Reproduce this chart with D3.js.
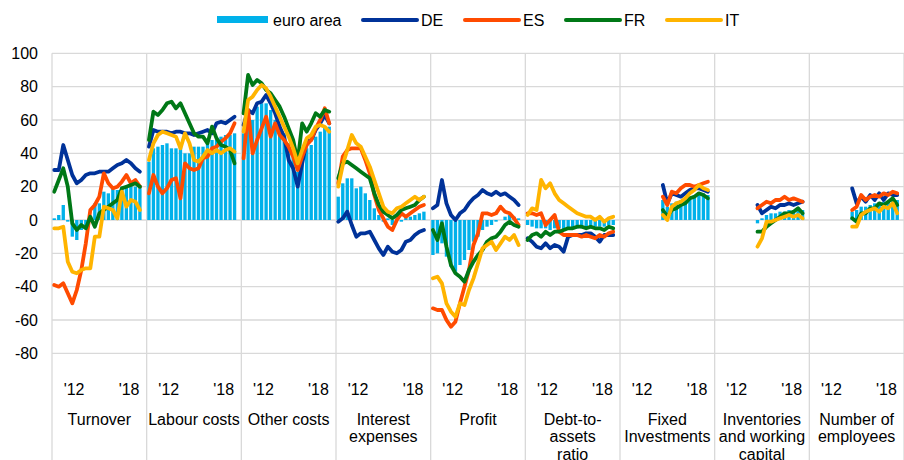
<!DOCTYPE html>
<html>
  <head>
    <meta charset="utf-8">
    <script src="https://d3js.org/d3.v7.min.js"></script>
    <style>
      body { margin: 0; background: #fff; }
      text { font-family: Arial, "Liberation Sans", sans-serif; fill: #000; }
    </style>
  </head>
  <body>
    <script>
      /* categories (one panel each) and their label lines */
      var categories = ["Turnover", "Labour costs", "Other costs", "Interest expenses", "Profit",
                        "Debt-to-assets ratio", "Fixed Investments", "Inventories and working capital",
                        "Number of employees"];
      var categoryLines = [["Turnover"], ["Labour costs"], ["Other costs"], ["Interest", "expenses"], ["Profit"],
                           ["Debt-to-", "assets", "ratio"], ["Fixed", "Investments"],
                           ["Inventories", "and working", "capital"], ["Number of", "employees"]];

      /* survey rounds inside each panel (last slot stays empty) */
      var slots = d3.range(21);
      var timeTicks = [{label: "'12", at: 4.4}, {label: "'18", at: 16.6}];
      var yTicks = [-80, -60, -40, -20, 0, 20, 40, 60, 80, 100];

      var _ = null;
      var euroArea = [
        [1, 3, 9, -1, -10, -12, -6, -3, 1, 10, 10, 17, 16, 19, 18, 20, 20, 21, 20, 21],
        [35, 43, 44, 45, 46, 43, 43, 46, 40, 40, 44, 44, 44, 46, 48, 48, 50, 51, 51, 52],
        [52, 62, 60, 68, 70, 70, 66, 60, 57, 52, 46, 38, 29, 36, 43, 45, 50, 53, 56, 56],
        [14, 22, 25, 25, 19, 20, 16, 12, 7, 3, -1, 1, -3, 1, -1, 2, 2, 3, 4, 5],
        [-21, -20, -14, -22, -28, -31, -27, -24, -18, -13, -10, -6, -4, -3, -1, 0, 2, 3, 2, 1],
        [-3, -4, -5, -5, -5, -6, -5, -5, -6, -6, -5, -5, -5, -5, -5, -4, -4, -4, -3, -3],
        [_, _, _, _, _, _, _, _, _, 12, 8, 10, 11, 12, 13, 14, 15, 16, 16, 15],
        [_, _, _, _, _, _, _, _, _, -2, 1, 3, 4, 4, 5, 5, 6, 6, 6, 6],
        [_, _, _, _, _, _, _, _, _, 5, 6, 8, 8, 9, 10, 10, 11, 11, 12, 12]
      ];
      var de = [
        [30, 30, 45, 36, 27, 22, 24, 27, 28, 28, 29, 29, 29, 31, 33, 34, 36, 34, 31, 29],
        [44, 54, 53, 53, 53, 52, 53, 53, 52, 52, 51, 52, 53, 54, 52, 58, 59, 58, 60, 62],
        [57, 66, 64, 70, 71, 75, 70, 64, 56, 50, 36, 31, 20, 34, 47, 48, 54, 58, 63, 58],
        [-1, 1, 5, -3, -10, -8, -8, -7, -12, -17, -21, -16, -19, -20, -18, -13, -12, -9, -7, -6],
        [7, 9, 24, 10, 3, 0, 4, 6, 10, 13, 15, 18, 16, 15, 17, 15, 16, 14, 12, 9],
        [-11, -13, -16, -17, -14, -17, -15, -16, -19, -10, -9, -9, -9, -8, -8, -10, -13, -9, -9, -9],
        [_, _, _, _, _, _, _, _, _, 21, 10, 16, 15, 14, 16, 18, 19, 19, 18, 17],
        [_, _, _, _, _, _, _, _, _, 9, 4, 6, 8, 7, 9, 9, 10, 9, 10, 11],
        [_, _, _, _, _, _, _, _, _, 19, 10, 14, 11, 15, 12, 16, 12, 16, 15, 15]
      ];
      var es = [
        [-39, -40, -38, -44, -50, -42, -30, -14, 6, 9, 14, 28, 22, 19, 20, 23, 27, 22, 24, 20],
        [16, 27, 20, 16, 19, 24, 25, 13, 34, 31, 30, 31, 37, 38, 43, 44, 47, 49, 52, 58],
        [37, 66, 40, 48, 55, 62, 50, 58, 51, 48, 44, 38, 30, 38, 45, 48, 55, 60, 67, 58],
        [22, 38, 42, 43, 43, 43, 36, 28, 15, 6, 1, -4, -6, 0, 4, 2, 4, 6, 8, 9],
        [-53, -54, -54, -60, -64, -61, -50, -40, -30, -15, -8, 4, 4, 3, 4, 8, 5, 4, 1, -3],
        [4, 4, 3, 4, -3, 0, 3, -7, -9, -9, -9, -9, -10, -9, -10, -11, -9, -10, -8, -7],
        [_, _, _, _, _, _, _, _, _, 14, 9, 17, 16, 19, 21, 21, 20, 21, 22, 23],
        [_, _, _, _, _, _, _, _, _, 7, 9, 11, 10, 12, 12, 14, 12, 13, 12, 11],
        [_, _, _, _, _, _, _, _, _, 6, 8, 15, 12, 14, 15, 14, 16, 15, 17, 16]
      ];
      var fr = [
        [17, 24, 31, 20, -2, -6, -3, -5, 2, -4, 4, 6, 8, 10, 12, 19, 20, 21, 22, 20],
        [48, 65, 63, 66, 70, 71, 67, 70, 64, 58, 52, 50, 50, 46, 56, 49, 45, 44, 42, 34],
        [64, 87, 81, 84, 82, 78, 76, 72, 68, 62, 55, 48, 35, 58, 53, 58, 64, 62, 66, 65],
        [25, 34, 35, 33, 31, 29, 27, 25, 16, 9, 5, 3, 1, 3, 6, 7, 8, 9, 12, 14],
        [-6, -12, -2, -16, -27, -32, -34, -37, -30, -25, -21, -18, -13, -11, -10, -7, -3, -1, -3, -4],
        [-12, -9, -8, -10, -7, -9, -7, -7, -6, -5, -5, -4, -4, -5, -4, -5, -5, -6, -4, -5],
        [_, _, _, _, _, _, _, _, _, 6, 2, 6, 7, 9, 10, 13, 14, 16, 15, 13],
        [_, _, _, _, _, _, _, _, _, -7, -7, -4, -2, 0, 2, 4, 4, 5, 7, 4],
        [_, _, _, _, _, _, _, _, _, 1, -1, 4, 4, 7, 7, 10, 9, 11, 13, 9]
      ];
      var it = [
        [-5, -5, -4, -25, -31, -32, -30, -29, -29, -10, -10, 8, 7, 6, 1, 17, 8, 12, 11, 6],
        [36, 46, 51, 53, 52, 51, 50, 43, 52, 46, 36, 35, 38, 42, 40, 42, 40, 42, 43, 41],
        [53, 72, 74, 78, 81, 79, 74, 68, 62, 56, 50, 43, 34, 42, 49, 51, 56, 57, 56, 53],
        [20, 33, 42, 51, 46, 44, 38, 32, 24, 16, 8, 5, 4, 7, 8, 10, 12, 14, 12, 14],
        [-35, -34, -38, -50, -55, -58, -50, -51, -42, -35, -26, -17, -15, -13, -18, -14, -10, -12, -9, -15],
        [3, 7, 6, 24, 19, 22, 16, 12, 10, 8, 6, 4, 3, 2, 2, 0, 2, -1, 1, 2],
        [_, _, _, _, _, _, _, _, _, 3, 0, 8, 10, 11, 13, 16, 18, 21, 19, 18],
        [_, _, _, _, _, _, _, _, _, -16, -11, -1, -1, 0, 1, 2, 3, 2, 3, 1],
        [_, _, _, _, _, _, _, _, _, -4, -4, 3, 5, 6, 7, 5, 8, 7, 10, 4]
      ];

      var series = [
        {name: "DE", values: de, color: "#003299"},
        {name: "ES", values: es, color: "#ff4b00"},
        {name: "FR", values: fr, color: "#007816"},
        {name: "IT", values: it, color: "#ffb400"}
      ];
      var barColor = "#00b1ea";
      var gridColor = "#d9d9d9";

      /* set the dimensions and margins of the graph */
      var margin = {top: 53.33, right: 0, bottom: 73.33, left: 52},
          width = 904 - margin.left - margin.right,
          height = 460 - margin.top - margin.bottom;

      var svg = d3.select("body").append("svg")
          .attr("width", 904)
          .attr("height", 460);

      var g = svg.append("g")
          .attr("transform", "translate(" + margin.left + "," + margin.top + ")");

      /* set the ranges */
      var x0 = d3.scaleBand().domain(categories).range([0, width]);
      var x1 = d3.scaleBand().domain(slots).range([0, x0.bandwidth()]).paddingInner(0.26).paddingOuter(0.13);
      var xp = function(i) { return x1(i) + x1.bandwidth() / 2; };
      var y = d3.scaleLinear().domain([-100, 100]).range([height, 0]);

      /* horizontal grid */
      g.selectAll(".hgrid")
          .data(yTicks)
        .enter().append("line")
          .attr("x1", 0).attr("x2", width)
          .attr("y1", function(d) { return y(d); })
          .attr("y2", function(d) { return y(d); })
          .attr("stroke", gridColor)
          .attr("stroke-width", 1.3);

      /* panel separators, running down through the labels */
      g.selectAll(".vgrid")
          .data(categories.concat(["end"]))
        .enter().append("line")
          .attr("x1", function(d, i) { return i * x0.bandwidth(); })
          .attr("x2", function(d, i) { return i * x0.bandwidth(); })
          .attr("y1", 0)
          .attr("y2", 460 - margin.top)
          .attr("stroke", gridColor)
          .attr("stroke-width", 1.3);

      /* y axis labels, plain hyphen for negatives */
      var yAxis = g.append("g")
          .call(d3.axisLeft(y).tickValues(yTicks).tickSize(0).tickPadding(14)
                .tickFormat(function(d) { return String(d); }));
      yAxis.select(".domain").remove();
      yAxis.selectAll("text")
          .style("font-size", "16px")
          .attr("font-family", null)
          .style("fill", "#000");

      var panel = g.selectAll(".panel")
          .data(categories)
        .enter().append("g")
          .attr("class", "panel")
          .attr("transform", function(d) { return "translate(" + x0(d) + ",0)"; });

      panel.each(function(c, ci) {
        var p = d3.select(this);

        /* add the bars */
        var bars = euroArea[ci].map(function(v, i) { return {i: i, v: v}; })
            .filter(function(d) { return d.v !== null; });
        p.selectAll(".bar")
            .data(bars)
          .enter().append("rect")
            .attr("x", function(d) { return x1(d.i); })
            .attr("width", x1.bandwidth())
            .attr("y", function(d) { return y(Math.max(0, d.v)); })
            .attr("height", function(d) { return Math.abs(y(d.v) - y(0)); })
            .attr("fill", barColor);

        /* add the lines */
        var line = d3.line()
            .defined(function(d) { return d !== null; })
            .x(function(d, i) { return xp(i); })
            .y(function(d) { return y(d); });
        series.forEach(function(s) {
          p.append("path")
              .datum(s.values[ci])
              .attr("d", line)
              .attr("fill", "none")
              .attr("stroke", s.color)
              .attr("stroke-width", 3.8)
              .attr("stroke-linejoin", "round")
              .attr("stroke-linecap", "round");
        });

        /* time labels */
        p.selectAll(".tick-label")
            .data(timeTicks)
          .enter().append("text")
            .attr("x", function(d) { return x1(0) + x1.step() * d.at + x1.bandwidth() / 2; })
            .attr("y", 395 - margin.top)
            .attr("text-anchor", "middle")
            .style("font-size", "16px")
            .text(function(d) { return d.label; });

        /* category label */
        p.selectAll(".cat-label")
            .data(categoryLines[ci])
          .enter().append("text")
            .attr("x", x0.bandwidth() / 2)
            .attr("y", function(d, k) { return 425 - margin.top + k * 17.5; })
            .attr("text-anchor", "middle")
            .style("font-size", "16px")
            .text(function(d) { return d; });
      });

      /* legend */
      var legend = svg.append("g");
      legend.append("rect")
          .attr("x", 217).attr("y", 16).attr("width", 51).attr("height", 7)
          .attr("fill", barColor);
      legend.append("text")
          .attr("x", 273).attr("y", 26)
          .style("font-size", "16px")
          .text("euro area");
      var legendX = [363, 465, 566, 667];
      series.forEach(function(s, i) {
        legend.append("line")
            .attr("x1", legendX[i]).attr("x2", legendX[i] + 54)
            .attr("y1", 20).attr("y2", 20)
            .attr("stroke", s.color)
            .attr("stroke-width", 4)
            .attr("stroke-linecap", "round");
        legend.append("text")
            .attr("x", legendX[i] + 58).attr("y", 26)
            .style("font-size", "16px")
            .text(s.name);
      });
    </script>
  </body>
</html>
